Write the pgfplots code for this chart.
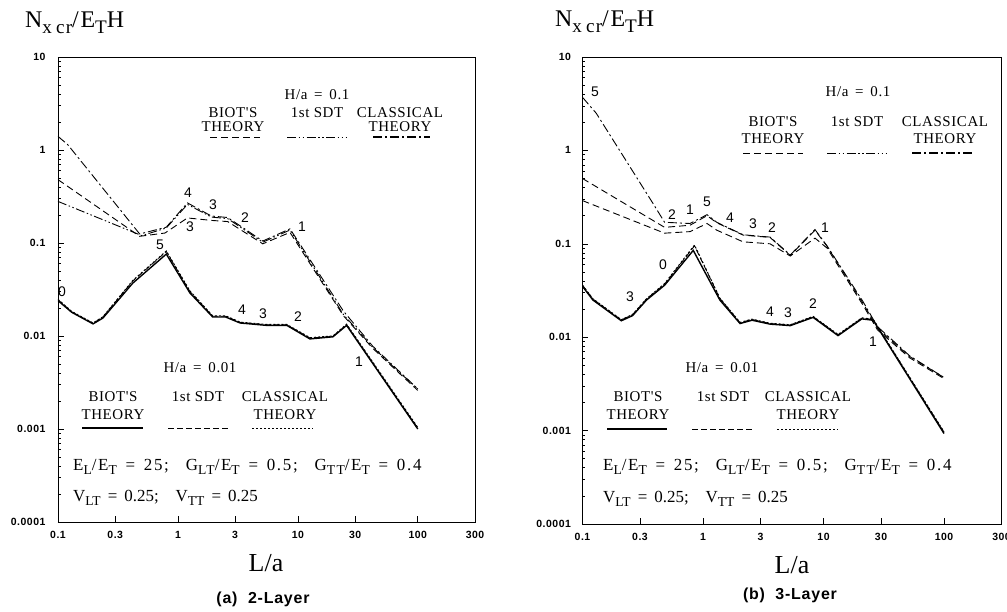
\documentclass[border=0pt]{standalone}
\usepackage{fontspec}
\setmainfont{Liberation Serif}
\newfontfamily\sansf{Liberation Sans}
\newfontfamily\lsS[LetterSpace=4]{Liberation Serif}
\newfontfamily\lsP[LetterSpace=10]{Liberation Serif}
\newfontfamily\lsT[LetterSpace=7]{Liberation Serif}
\newfontfamily\lsB[LetterSpace=5]{Liberation Sans}
\usepackage{graphicx}
\usepackage{pgfplots}
\pgfplotsset{compat=1.18}

\newcommand{\tickf}{\lsB\bfseries\fontsize{10.5}{12}\selectfont}
\newcommand{\lgf}{\lsS\fontsize{15}{13}\selectfont}
\newcommand{\pff}{\fontsize{17}{19}\selectfont}
\newcommand{\modef}{\sansf\fontsize{14}{16}\selectfont}
\newcommand{\sub}[1]{\raisebox{-0.5ex}{\scalebox{0.8}{#1}}}

\tikzset{
  biotA/.style={black, line width=0.9pt, dash pattern=on 7bp off 4bp},
  sdtA/.style={black, line width=0.9pt, dash pattern=on 9bp off 2.5bp on 1.5bp off 2.5bp on 1.5bp off 2.5bp},
  clA/.style={black, line width=0.9pt, dash pattern=on 9bp off 3bp on 2bp off 3bp},
  biotB/.style={black, line width=1.4pt},
  sdtB/.style={black, line width=0.9pt, dash pattern=on 6bp off 3bp},
  clB/.style={black, line width=1pt, dash pattern=on 2bp off 2bp},
  lg/.style={font=\lgf, align=center, inner sep=1pt},
}

\begin{document}
\begin{tikzpicture}
\useasboundingbox (0bp,0bp) rectangle (1007bp,612bp);

%================ LEFT PANEL (a) =================
\begin{axis}[at={(58bp,90bp)}, anchor=south west, width=417bp, height=465bp,
    scale only axis, xmode=log, ymode=log,
    xmin=0.1, xmax=300, ymin=1e-4, ymax=10,
    axis line style={line width=0.9pt},
    xtick={0.1,0.3,1,3,10,30,100,300},
    xticklabels={0.1,0.3,1,3,10,30,100,300},
    ytick={1e-4,1e-3,1e-2,1e-1,1,10},
    yticklabels={0.0001,0.001,0.01,0.1,1,10},
    tick align=inside, tick pos=left,
    major tick length=6bp, minor tick length=3bp,
    xminorticks=false,
    tick style={line width=0.6pt, black},
    ticklabel style={font=\tickf},
    xticklabel style={yshift=-6bp},
    yticklabel style={xshift=-9bp}]
% H/a = 0.1
\addplot[biotA] coordinates {(0.1,0.48) (0.48,0.118) (0.78,0.128) (1.2,0.186) (1.9,0.175) (2.6,0.17) (5.1,0.098) (8.6,0.13) (24,0.0165) (42,0.0074) (67,0.0042) (100,0.0026)};
\addplot[sdtA] coordinates {(0.1,0.28) (0.5,0.12) (0.8,0.145) (1.2,0.26) (1.9,0.19) (2.6,0.183) (5.1,0.102) (8.6,0.138) (24,0.017) (42,0.0076) (67,0.0043) (100,0.0027)};
\addplot[clA] coordinates {(0.1,1.4) (0.12,1.15) (0.48,0.125) (0.8,0.148) (1.2,0.27) (1.9,0.195) (2.6,0.188) (5.1,0.105) (8.6,0.142) (24,0.0185) (42,0.0078) (67,0.0044) (100,0.0027)};
% H/a = 0.01
\addplot[biotB] coordinates {(0.1,0.024) (0.13,0.018) (0.196,0.0135) (0.237,0.0156) (0.42,0.037) (0.8,0.076) (1.26,0.029) (1.95,0.016) (2.5,0.016) (3.3,0.0138) (5.5,0.013) (8.1,0.013) (12.6,0.0093) (19.6,0.0098) (25.5,0.013) (100,0.001)};
\addplot[sdtB] coordinates {(0.1,0.0245) (0.13,0.0182) (0.196,0.0137) (0.237,0.016) (0.42,0.039) (0.8,0.081) (1.26,0.030) (1.95,0.0163) (2.5,0.0163) (3.3,0.014) (5.5,0.0132) (8.1,0.0132) (12.6,0.0095) (19.6,0.0099) (25.5,0.0132) (100,0.00102)};
\addplot[clB] coordinates {(0.1,0.0248) (0.13,0.0184) (0.196,0.0138) (0.237,0.0161) (0.42,0.0395) (0.8,0.082) (1.26,0.0305) (1.95,0.0165) (2.5,0.0165) (3.3,0.0141) (5.5,0.0133) (8.1,0.0133) (12.6,0.0096) (19.6,0.010) (25.5,0.0134) (100,0.00104)};
\end{axis}

\begin{scope}[x=1bp,y=1bp]
% title and labels
\node[anchor=base west, inner sep=0pt, font=\lsT\fontsize{24}{26}\selectfont] at (25,584) {N\sub{x\hspace{5bp}cr}/E\sub{T}H};
\node[font=\fontsize{26}{28}\selectfont] at (266,49) {L/a};
\node[font=\lsB\bfseries\fontsize{16}{18}\selectfont] at (263,13) {(a)\ \ 2-Layer};

% upper legend
\node[lg] at (317,517) {H/a\ \,=\ \,0.1};
\node[lg] at (233,492) {BIOT'S\\[1bp]THEORY};
\node[lg] at (317,499) {1st SDT};
\node[lg] at (400,492) {CLASSICAL\\[1bp]THEORY};
\draw[biotA] (210,475) -- (260,475);
\draw[sdtA] (287,475) -- (347,475);
\draw[clA, line width=1.3pt] (373,475) -- (430,475);

% lower legend
\node[lg] at (200,244) {H/a\ \,=\ \,0.01};
\node[lg] at (113,206) {BIOT'S\\[5bp]THEORY};
\node[lg] at (198,215) {1st SDT};
\node[lg] at (285,206) {CLASSICAL\\[5bp]THEORY};
\draw[biotB] (82,184) -- (143,184);
\draw[sdtB] (168,184) -- (228,184);
\draw[clB] (252,184) -- (313,184);

\node[anchor=west, inner sep=0pt, font=\lsP\fontsize{17}{19}\selectfont] at (73,145) {E\sub{L}/E\sub{T} \,=\, 25;\quad G\sub{LT}/E\sub{T} \,=\, 0.5;\quad G\sub{TT}/E\sub{T} \,=\, 0.4};
\node[anchor=west, inner sep=0pt, font=\pff] at (73,114) {V\sub{LT} \,=\, 0.25;\quad V\sub{TT} \,=\, 0.25};

% mode numbers
\node[font=\modef] at (188,419) {4};
\node[font=\modef] at (213,407) {3};
\node[font=\modef] at (245,394) {2};
\node[font=\modef] at (302,385) {1};
\node[font=\modef] at (190,385) {3};
\node[font=\modef] at (160,367) {5};
\node[font=\modef] at (62,320) {0};
\node[font=\modef] at (242,302) {4};
\node[font=\modef] at (263,298) {3};
\node[font=\modef] at (298,295) {2};
\node[font=\modef] at (359,250) {1};
\end{scope}

%================ RIGHT PANEL (b) =================
\begin{axis}[at={(582.5bp,88bp)}, anchor=south west, width=419bp, height=467bp,
    scale only axis, xmode=log, ymode=log,
    xmin=0.1, xmax=300, ymin=1e-4, ymax=10,
    axis line style={line width=0.9pt},
    xtick={0.1,0.3,1,3,10,30,100,300},
    xticklabels={0.1,0.3,1,3,10,30,100,300},
    ytick={1e-4,1e-3,1e-2,1e-1,1,10},
    yticklabels={0.0001,0.001,0.01,0.1,1,10},
    tick align=inside, tick pos=left,
    major tick length=6bp, minor tick length=3bp,
    xminorticks=false,
    tick style={line width=0.6pt, black},
    ticklabel style={font=\tickf},
    xticklabel style={yshift=-6bp},
    yticklabel style={xshift=-8bp}]
% H/a = 0.1
\addplot[biotA] coordinates {(0.1,0.29) (0.48,0.13) (0.78,0.135) (1.08,0.165) (1.3,0.14) (2.15,0.105) (3.6,0.1) (5.3,0.074) (8.5,0.115) (10.7,0.09) (21.3,0.022) (28,0.012) (52,0.006) (100,0.0036)};
\addplot[biotA] coordinates {(0.1,0.5) (0.48,0.15) (0.78,0.158) (1.08,0.2) (1.3,0.168) (2.15,0.124) (3.6,0.117) (5.3,0.075) (8.5,0.14) (10.7,0.094) (21.3,0.023) (28,0.0125) (52,0.0062) (100,0.0037)};
\addplot[clA] coordinates {(0.1,3.7) (0.13,2.5) (0.385,0.27) (0.48,0.17) (0.78,0.165) (1.08,0.205) (1.3,0.17) (2.15,0.125) (3.6,0.118) (5.3,0.076) (8.5,0.142) (10.7,0.095) (21.3,0.024) (28,0.013) (52,0.0063) (100,0.0037)};
% H/a = 0.01
\addplot[biotB] coordinates {(0.1,0.035) (0.122,0.025) (0.21,0.015) (0.26,0.017) (0.34,0.025) (0.48,0.036) (0.83,0.085) (1.38,0.025) (2.03,0.014) (2.55,0.0152) (3.6,0.0138) (5.3,0.0133) (8.2,0.0163) (13.2,0.0104) (20.8,0.0157) (25.8,0.0152) (100,0.00093)};
\addplot[sdtB] coordinates {(0.1,0.036) (0.122,0.0256) (0.21,0.0153) (0.26,0.0174) (0.34,0.0256) (0.48,0.037) (0.85,0.095) (1.38,0.026) (2.03,0.0143) (2.55,0.0155) (3.6,0.014) (5.3,0.0135) (8.2,0.0166) (13.2,0.0106) (20.8,0.016) (25.8,0.0155) (100,0.00096)};
\addplot[clB] coordinates {(0.1,0.036) (0.122,0.0258) (0.21,0.0154) (0.26,0.0175) (0.34,0.0258) (0.48,0.0375) (0.85,0.097) (1.38,0.0262) (2.03,0.0144) (2.55,0.0156) (3.6,0.0141) (5.3,0.0136) (8.2,0.0167) (13.2,0.0107) (20.8,0.0161) (25.8,0.0156) (100,0.00097)};
\end{axis}

\begin{scope}[x=1bp,y=1bp]
\node[anchor=base west, inner sep=0pt, font=\lsT\fontsize{24}{26}\selectfont] at (555,585) {N\sub{x\hspace{5bp}cr}/E\sub{T}H};
\node[font=\fontsize{26}{28}\selectfont] at (792,47) {L/a};
\node[font=\lsB\bfseries\fontsize{16}{18}\selectfont] at (790,17) {(b)\ \ 3-Layer};

\node[lg] at (858,520) {H/a\ \,=\ \,0.1};
\node[lg] at (773,482) {BIOT'S\\[4bp]THEORY};
\node[lg] at (857,490) {1st SDT};
\node[lg] at (945,482) {CLASSICAL\\[4bp]THEORY};
\draw[biotA] (743,459) -- (803,459);
\draw[sdtA] (827,459) -- (887,459);
\draw[clA, line width=1.3pt] (912,459) -- (972,459);

\node[lg] at (722,244) {H/a\ \,=\ \,0.01};
\node[lg] at (638,206) {BIOT'S\\[5bp]THEORY};
\node[lg] at (723,215) {1st SDT};
\node[lg] at (808,206) {CLASSICAL\\[5bp]THEORY};
\draw[biotB] (607,183) -- (667,183);
\draw[sdtB] (692,183) -- (752,183);
\draw[clB] (777,183) -- (838,183);

\node[anchor=west, inner sep=0pt, font=\lsP\fontsize{17}{19}\selectfont] at (603,145) {E\sub{L}/E\sub{T} \,=\, 25;\quad G\sub{LT}/E\sub{T} \,=\, 0.5;\quad G\sub{TT}/E\sub{T} \,=\, 0.4};
\node[anchor=west, inner sep=0pt, font=\pff] at (603,113) {V\sub{LT} \,=\, 0.25;\quad V\sub{TT} \,=\, 0.25};

\node[font=\modef] at (595,520) {5};
\node[font=\modef] at (672,397) {2};
\node[font=\modef] at (690,402) {1};
\node[font=\modef] at (707,410) {5};
\node[font=\modef] at (730,394) {4};
\node[font=\modef] at (753,388) {3};
\node[font=\modef] at (772,384) {2};
\node[font=\modef] at (825,384) {1};
\node[font=\modef] at (630,315) {3};
\node[font=\modef] at (663,347) {0};
\node[font=\modef] at (770,300) {4};
\node[font=\modef] at (788,299) {3};
\node[font=\modef] at (813,308) {2};
\node[font=\modef] at (873,270) {1};
\end{scope}
\end{tikzpicture}
\end{document}
